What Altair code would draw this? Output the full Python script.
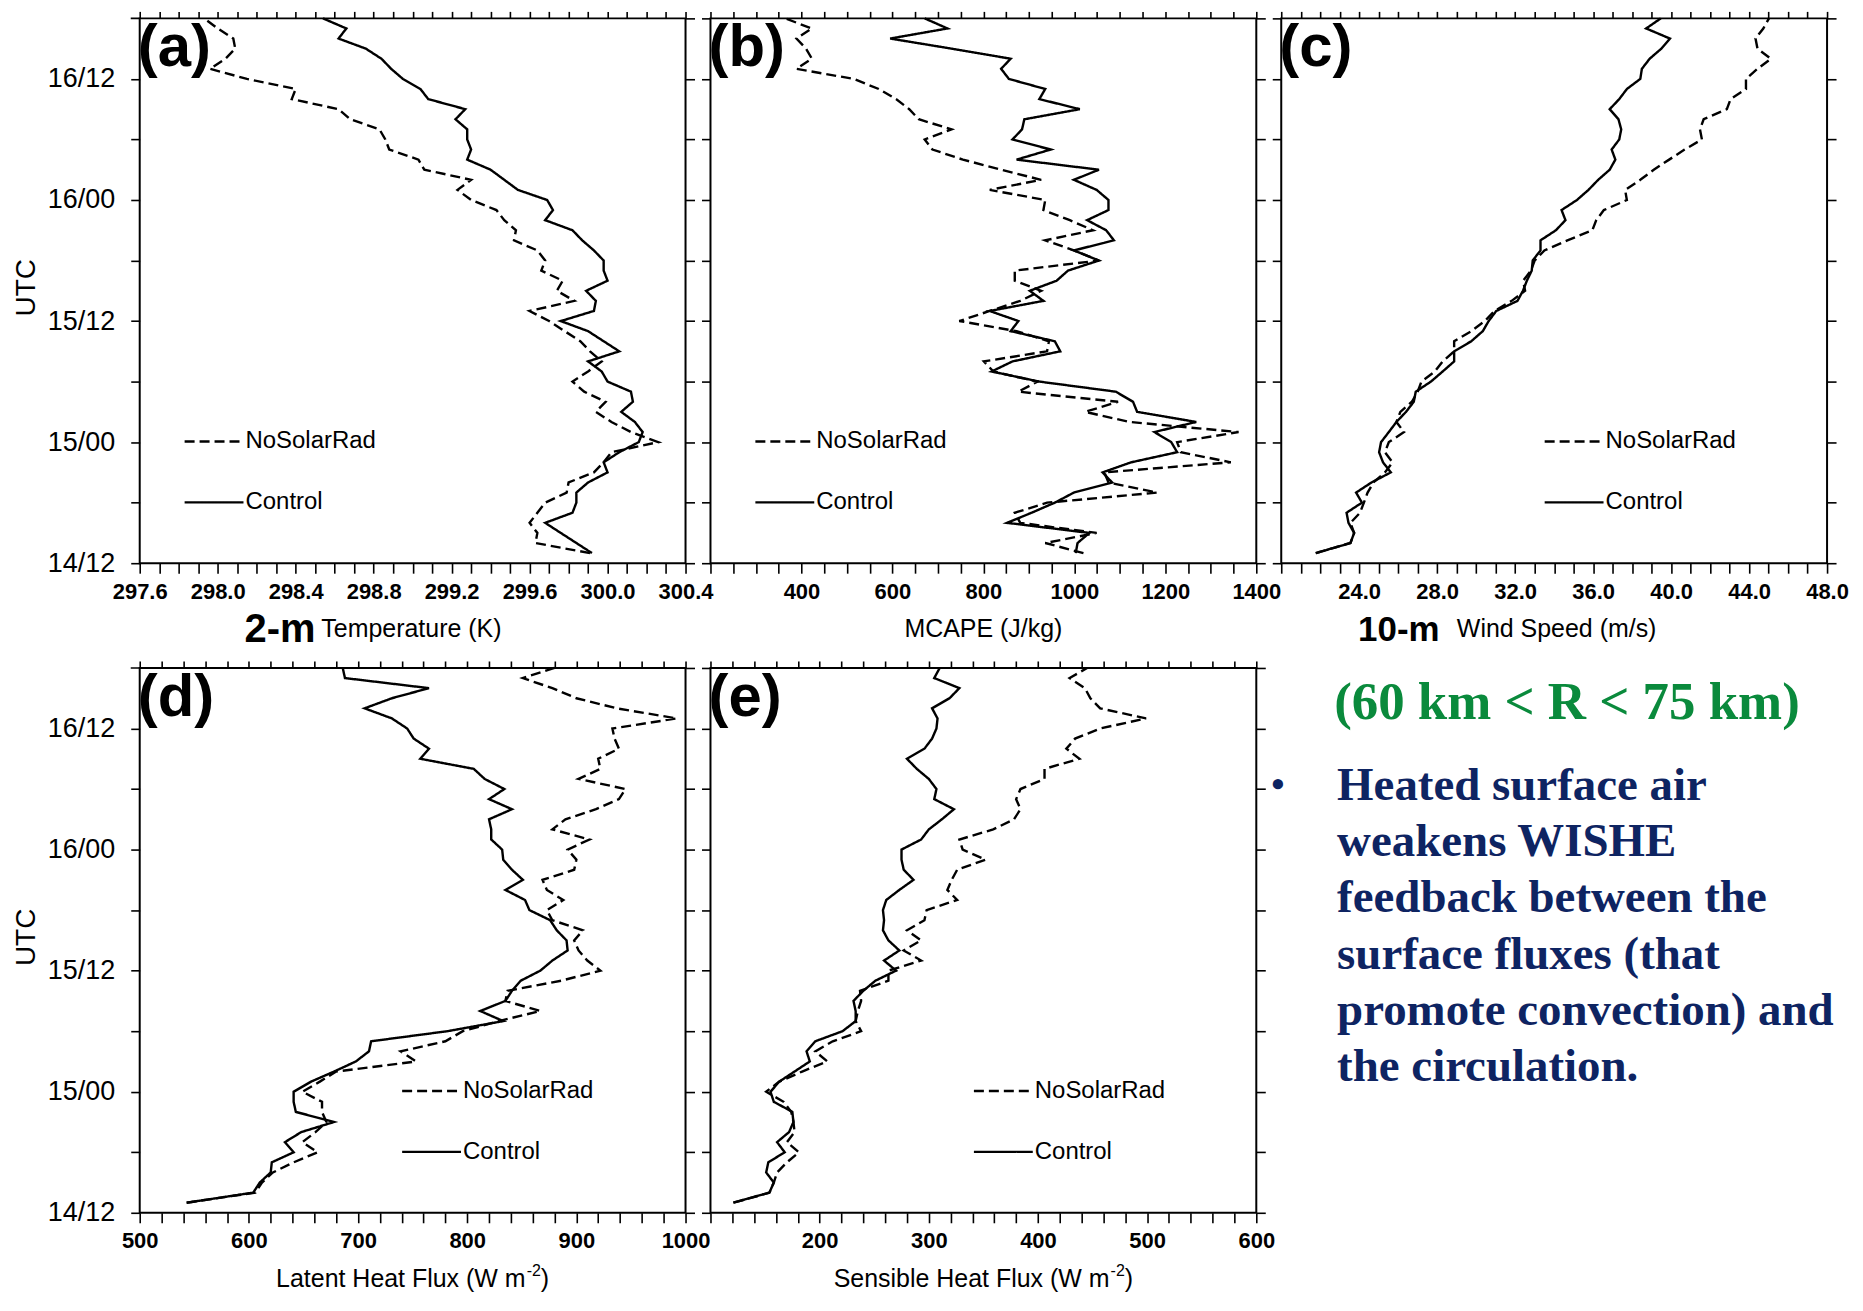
import altair as alt
import pandas as pd

# ---------------- data ----------------
HOURS = list(range(1, 55))          # hours after 14/12 UTC
SERIES = ["NoSolarRad", "Control"]

T2M_CONTROL = [299.92, 299.84, 299.76, 299.68, 299.82, 299.84, 299.84, 299.90, 300.00, 299.98,
               300.06, 300.16, 300.18, 300.14, 300.07, 300.13, 300.12, 300.00, 299.97, 299.90,
               300.06, 299.98, 299.90, 299.76, 299.93, 299.94, 299.89, 300.00, 299.98, 299.98,
               299.93, 299.87, 299.82, 299.68, 299.72, 299.69, 299.54, 299.47, 299.40, 299.28,
               299.30, 299.28, 299.28, 299.22, 299.27, 299.08, 299.04, 298.95, 298.89, 298.84,
               298.76, 298.62, 298.66, 298.54]
T2M_NOSOLAR = [299.91, 299.63, 299.64, 299.60, 299.64, 299.68, 299.79, 299.80, 299.93, 299.98,
               300.02, 300.26, 300.12, 300.02, 299.94, 299.99, 299.88, 299.82, 299.90, 299.97,
               299.91, 299.86, 299.78, 299.70, 299.60, 299.83, 299.74, 299.77, 299.66, 299.68,
               299.64, 299.52, 299.53, 299.47, 299.43, 299.30, 299.23, 299.30, 299.06, 299.03,
               298.88, 298.86, 298.83, 298.68, 298.62, 298.38, 298.40, 298.15, 297.96, 298.04,
               298.09, 298.08, 298.00, 297.93]

MCAPE_CONTROL = [1003, 1007, 1033, 852, 906, 957, 999, 1083, 1062, 1125,
                 1226, 1213, 1176, 1268, 1138, 1129, 1091, 923, 818, 864,
                 969, 957, 860, 877, 814, 932, 902, 961, 986, 1054,
                 999, 1087, 1070, 1028, 1075, 1075, 1049, 999, 1054, 873,
                 948, 864, 885, 890, 1012, 923, 936, 856, 839, 860,
                 730, 595, 721, 671]
MCAPE_NOSOLAR = [1020, 936, 1049, 881, 869, 940, 1182, 1075, 1066, 1344,
                 1234, 1226, 1361, 1121, 1024, 1096, 877, 919, 822, 801,
                 940, 944, 873, 747, 814, 881, 927, 869, 869, 1054,
                 999, 936, 1041, 990, 932, 936, 814, 927, 839, 755,
                 688, 671, 730, 658, 637, 608, 570, 515, 389, 423,
                 410, 389, 423, 364]

WS_CONTROL = [21.77, 23.55, 23.74, 23.45, 23.35, 24.14, 23.84, 24.63, 25.62, 25.22,
              25.02, 25.12, 25.52, 25.91, 26.40, 26.80, 26.90, 27.68, 28.28, 28.87,
              28.87, 29.75, 30.34, 30.64, 31.03, 32.12, 32.40, 32.60, 32.85, 32.90,
              33.30, 33.30, 34.09, 34.58, 34.38, 35.17, 35.76, 36.26, 36.85, 37.14,
              36.95, 37.34, 37.44, 37.30, 36.85, 37.34, 37.73, 38.42, 38.50, 38.90,
              39.50, 39.94, 38.72, 39.47]
WS_NOSOLAR = [21.77, 23.55, 23.74, 23.55, 24.04, 24.24, 24.43, 24.73, 25.32, 25.71,
              25.32, 25.52, 26.30, 25.91, 26.11, 26.70, 27.00, 27.19, 27.88, 28.28,
              28.87, 28.87, 29.75, 30.44, 30.94, 31.82, 32.51, 32.41, 32.81, 33.00,
              33.50, 34.68, 35.96, 36.16, 36.55, 37.73, 37.64, 38.42, 39.11, 39.90,
              40.69, 41.58, 41.48, 41.67, 42.86, 43.05, 43.84, 43.84, 44.43, 45.12,
              44.43, 44.33, 44.73, 45.02]

LH_CONTROL = [543, 604, 610, 620, 621, 641, 633, 648, 678, 643,
              641, 641, 657, 678, 698, 710, 712, 782, 833, 812,
              835, 841, 849, 867, 878, 892, 891, 882, 876, 857,
              853, 835, 851, 841, 833, 832, 822, 822, 820, 841,
              820, 834, 816, 806, 757, 765, 751, 745, 731, 706,
              731, 765, 688, 686]
LH_NOSOLAR = [543, 606, 612, 622, 641, 663, 649, 661, 671, 667,
              667, 649, 665, 680, 753, 739, 780, 796, 829, 867,
              835, 837, 886, 922, 910, 902, 898, 906, 878, 873,
              888, 873, 869, 898, 900, 892, 912, 878, 890, 918,
              939, 945, 902, 922, 920, 939, 935, 933, 992, 937,
              900, 878, 851, 880]

SH_CONTROL = [121, 154, 158, 151, 153, 168, 161, 172, 176, 175,
              158, 155, 163, 177, 191, 188, 196, 221, 233, 233,
              231, 240, 251, 270, 259, 273, 263, 258, 259, 258,
              261, 273, 286, 277, 275, 275, 293, 300, 312, 323,
              305, 307, 300, 289, 280, 296, 303, 307, 308, 303,
              319, 328, 305, 310]
SH_NOSOLAR = [121, 154, 158, 161, 170, 181, 170, 177, 176, 174,
              167, 151, 163, 184, 207, 196, 212, 238, 233, 235,
              238, 237, 263, 263, 293, 277, 293, 280, 296, 298,
              326, 317, 321, 326, 352, 331, 328, 359, 378, 384,
              380, 384, 406, 406, 438, 426, 434, 457, 499, 457,
              448, 443, 429, 445]

TIME_TICK_HOURS = [0, 12, 24, 36, 48]
TIME_TICK_LABELS = ["14/12", "15/00", "15/12", "16/00", "16/12"]

A_LABELS = ["297.6", "298.0", "298.4", "298.8", "299.2", "299.6", "300.0", "300.4"]
B_LABELS = ["400", "600", "800", "1000", "1200", "1400"]
C_LABELS = ["24.0", "28.0", "32.0", "36.0", "40.0", "44.0", "48.0"]
D_LABELS = ["500", "600", "700", "800", "900", "1000"]
E_LABELS = ["200", "300", "400", "500", "600"]

GREEN_TEXT = "(60 km < R < 75 km)"
BULLET_LINES = ["Heated surface air", "weakens WISHE", "feedback between the",
                "surface fluxes (that", "promote convection) and", "the circulation."]

# ---------------- styling ----------------
FONT = "Liberation Sans"
SERIF = "Liberation Serif"
GREEN = "#0A8A3C"
NAVY = "#0E2462"
W, H = 547, 546
ONE = pd.DataFrame({"k": [0]})
TITLE_SIZE = 25


def long_df(ctrl, nosolar):
    return pd.DataFrame({
        "hour": HOURS * 2,
        "value": list(nosolar) + list(ctrl),
        "series": ["NoSolarRad"] * len(HOURS) + ["Control"] * len(HOURS),
    })


def txt(text, x, y, size, weight="normal", align="left", baseline="alphabetic",
        font=FONT, color="black", angle=0):
    kw = dict(text=text, align=align, baseline=baseline, font=font,
              fontSize=size, fontWeight=weight, color=color)
    if angle:
        kw["angle"] = angle
    return alt.Chart(ONE).mark_text(**kw).encode(x=alt.value(x), y=alt.value(y))


LW = 2.4
DASH = [10, 5]


def rule(x1, x2, y, dash, width=LW):
    return alt.Chart(ONE).mark_rule(color="black", strokeWidth=width, strokeDash=dash).encode(
        x=alt.value(x1), x2=alt.value(x2), y=alt.value(y))


def x_label_expr(labels, fmt):
    expr = "''"
    for lab in reversed(labels):
        expr = f"format(datum.value, '{fmt}') == '{lab}' ? '{lab}' : ({expr})"
    return expr


def time_label_expr():
    expr = "''"
    for h, lab in reversed(list(zip(TIME_TICK_HOURS, TIME_TICK_LABELS))):
        expr = f"datum.value == {h} ? '{lab}' : ({expr})"
    return expr


AX = dict(grid=False, domain=False, tickColor="black", tickWidth=1.6,
          labelColor="black", labelFont=FONT, labelFlush=False, labelOverlap=False,
          labelBound=False, title=None)


def panel(ctrl, nosolar, dom, step, labels, fmt, letter, titles, legend_x, utc):
    df = long_df(ctrl, nosolar)
    n = int(round((dom[1] - dom[0]) / step))
    xticks = [round(dom[0] + i * step, 4) for i in range(n + 1)]
    hticks = list(range(0, 55, 6))
    xs = alt.Scale(domain=dom, nice=False, zero=False)
    ys = alt.Scale(domain=[0, 54], nice=False, zero=False)
    if utc:
        yaxis = alt.Axis(orient="left", values=hticks[:-1], labelExpr=time_label_expr(), tickSize=9,
                         labelFontSize=27, labelPadding=16, **AX)
    else:
        yaxis = alt.Axis(orient="left", values=hticks, labels=False, tickSize=9, **AX)
    lines = alt.Chart(df).mark_line(strokeWidth=LW, color="black").encode(
        x=alt.X("value:Q", scale=xs,
                axis=alt.Axis(orient="bottom", values=xticks, labelExpr=x_label_expr(labels, fmt),
                              tickSize=10, labelFontSize=22, labelFontWeight="bold",
                              labelPadding=8, **AX)),
        y=alt.Y("hour:Q", scale=ys, axis=yaxis),
        strokeDash=alt.StrokeDash("series:N", scale=alt.Scale(domain=SERIES, range=[DASH, [1, 0]]),
                                  legend=None),
        order=alt.Order("hour:Q"),
    )
    frame = alt.Chart(df).mark_point(opacity=0).encode(
        x=alt.X("value:Q", scale=xs,
                axis=alt.Axis(orient="top", values=xticks, labels=False, tickSize=7, **AX)),
        y=alt.Y("hour:Q", scale=ys,
                axis=alt.Axis(orient="right", values=hticks, labels=False, tickSize=9, **AX)),
    )
    extras = [
        txt(letter, -2, 1, 60, weight="bold", baseline="top"),
        rule(legend_x, legend_x + 59, 424, DASH),
        rule(legend_x, legend_x + 59, 485, [1, 0]),
        txt(SERIES[0], legend_x + 61, 424, 24, baseline="middle"),
        txt(SERIES[1], legend_x + 61, 485, 24, baseline="middle"),
    ] + titles
    if utc:
        extras.append(rule(-9, 0, 0, [1, 0], width=1.6))   # tick at 16/18 (top edge)
        extras.append(txt("UTC", -113, 270, 28, align="center", baseline="middle", angle=270))
    return alt.layer(lines, frame, *extras).resolve_axis(
        x="independent", y="independent").properties(width=W, height=H)


def flux_title(main, main_em):
    main_w = main_em * TITLE_SIZE
    sup_w = 0.889 * 16
    total = main_w + 1 + sup_w + 0.333 * TITLE_SIZE
    x0 = W / 2 - total / 2
    return [
        txt(main, x0, 620, TITLE_SIZE),
        txt("-2", x0 + main_w + 1, 609, 16),
        txt(")", x0 + main_w + 1 + sup_w, 620, TITLE_SIZE),
    ]


titles_a = [txt("2-m", 105, 625, 40, weight="bold"), txt("Temperature (K)", 182, 620, TITLE_SIZE)]
titles_b = [txt("MCAPE (J/kg)", W / 2, 620, TITLE_SIZE, align="center")]
titles_c = [txt("10-m", 77, 624, 35, weight="bold"), txt("Wind Speed (m/s)", 176, 620, TITLE_SIZE)]
titles_d = flux_title("Latent Heat Flux (W m", 10.003)
titles_e = flux_title("Sensible Heat Flux (W m", 11.058)

pa = panel(T2M_CONTROL, T2M_NOSOLAR, [297.6, 300.4], 0.1, A_LABELS, ".1f", "(a)", titles_a, 45, True)
pb = panel(MCAPE_CONTROL, MCAPE_NOSOLAR, [200, 1400], 50, B_LABELS, "d", "(b)", titles_b, 45, False)
pc = panel(WS_CONTROL, WS_NOSOLAR, [20, 48], 1, C_LABELS, ".1f", "(c)", titles_c, 264, False)
pdl = panel(LH_CONTROL, LH_NOSOLAR, [500, 1000], 20, D_LABELS, "d", "(d)", titles_d, 263, True)
pe = panel(SH_CONTROL, SH_NOSOLAR, [100, 600], 20, E_LABELS, "d", "(e)", titles_e, 264, False)

text_layers = [txt(GREEN_TEXT, 53, 35, 53, weight="bold", font=SERIF, color=GREEN, baseline="middle"),
               txt("\u2022", -10, 118, 38, weight="bold", font=SERIF, color=NAVY, baseline="middle")]
for i, line in enumerate(BULLET_LINES):
    text_layers.append(txt(line, 56, 118 + i * 56.4, 47, weight="bold", font=SERIF,
                           color=NAVY, baseline="middle"))
ptext = alt.layer(*text_layers).properties(
    width=W, height=H, view=alt.ViewBackground(stroke="transparent"))

chart = alt.concat(pa, pb, pc, pdl, pe, ptext, columns=3,
                   spacing={"row": 105, "column": 25}, bounds="flush").properties(
    padding={"left": 4, "top": 0, "right": 5, "bottom": 5}, background="white"
).configure_view(stroke="black", strokeWidth=2)

chart.save("out.html", embed_options={"renderer": "svg", "actions": False})
